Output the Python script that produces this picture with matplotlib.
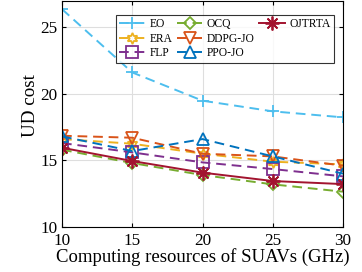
import matplotlib
matplotlib.use("Agg")
import matplotlib.pyplot as plt
from matplotlib.lines import Line2D

plt.rcParams['font.family'] = ['Liberation Serif', 'DejaVu Serif']
plt.rcParams['mathtext.fontset'] = 'stix'

x = [10, 15, 20, 25, 30]
EO = [26.35, 21.6, 19.48, 18.68, 18.23]
ERA = [16.6, 16.25, 15.5, 14.9, 14.7]
FLP = [16.3, 15.6, 14.85, 14.35, 13.8]
OCQ = [15.8, 14.8, 13.9, 13.2, 12.65]
DDPG = [16.85, 16.7, 15.5, 15.3, 14.6]
PPO = [16.8, 15.7, 16.6, 15.3, 14.0]
OJTRTA = [15.95, 14.95, 14.08, 13.45, 13.22]
names = ['EO', 'ERA', 'FLP', 'OCQ', 'DDPG-JO', 'PPO-JO', 'OJTRTA']
xticks = [10, 15, 20, 25, 30]
yticks = [10, 15, 20, 25]

fig = plt.figure(figsize=(3.62, 2.72), dpi=100)
ax = fig.add_axes([62/362, 1-227/272, (343-62)/362, (227-0.5)/272])

series = [
    (EO, '#4DBEEE', '+', '--'),
    (ERA, '#EDB120', (6, 1, 0), '--'),
    (FLP, '#7E2F8E', 's', '--'),
    (OCQ, '#77AC30', 'D', '--'),
    (DDPG, '#D95319', 'v', '--'),
    (PPO, '#0072BD', '^', '--'),
    (OJTRTA, '#A2142F', (8, 2, 0), '-'),
]
handles = []
for (ys, c, m, ls), lab in zip(series, names):
    ms = 8
    if lab == 'OJTRTA':
        ms = 10
    if lab == 'OCQ':
        ms = 6
    if lab == 'EO':
        ms = 9
    h, = ax.plot(x, ys, color=c, marker=m, linestyle=ls, linewidth=1.4, markersize=ms,
                 markerfacecolor='none', markeredgecolor=c, markeredgewidth=1.3, label=lab,
                 dashes=(5, 3) if ls == '--' else (None, None))
    handles.append(h)

blank = Line2D([], [], linestyle='none', marker=None)
leg_handles = handles + [blank, blank]
leg_labels = names + ['', '']

ax.set_xlim(10, 30)
ax.set_ylim(10, 27)
ax.set_xticks(xticks)
ax.set_yticks(yticks)
ax.grid(True, color='#DEDEDE', linewidth=0.8)
ax.set_axisbelow(True)
ax.tick_params(direction='in', top=True, right=True, labelsize=12.3, length=3)
ax.tick_params(axis='x', pad=4)
ax.tick_params(axis='y', pad=3)
for s in ax.spines.values():
    s.set_linewidth(0.8)
ax.set_xlabel('Computing resources of SUAVs (GHz)', fontsize=13.5, labelpad=0)
ax.set_ylabel('UD cost', fontsize=13.7, labelpad=2)
ax.yaxis.set_label_coords(-0.083, 0.535)

leg = ax.legend(leg_handles, leg_labels, ncol=3, loc='upper right',
                bbox_to_anchor=(0.968, 0.936), fontsize=8.3,
                frameon=True, fancybox=False, edgecolor='black', handlelength=2.2,
                handletextpad=0.4, columnspacing=0.4, labelspacing=0.2, borderpad=0.3,
                borderaxespad=0)
leg.get_frame().set_linewidth(0.8)

fig.savefig('out.png', dpi=100)
